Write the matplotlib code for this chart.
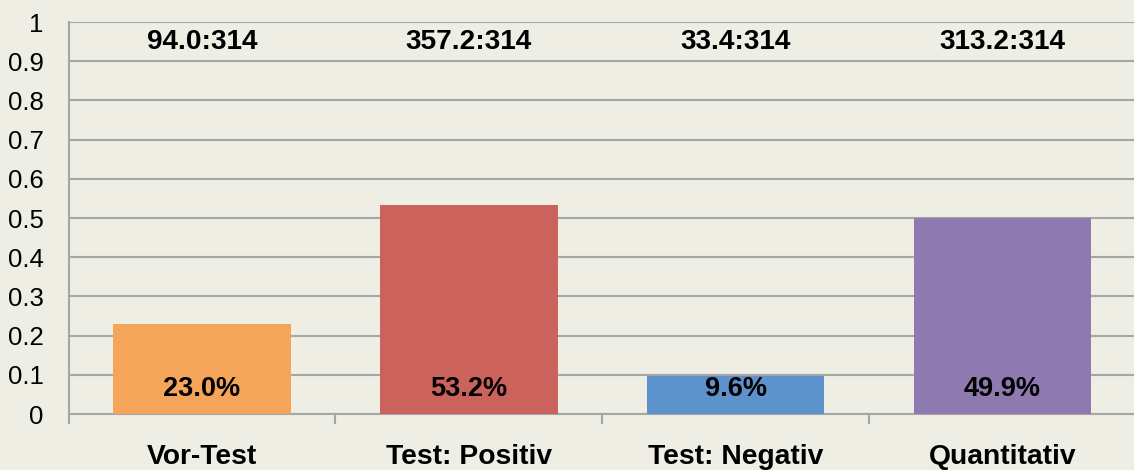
import numpy as np
import matplotlib.pyplot as plt

plt.rcParams['font.family'] = ['Liberation Sans', 'DejaVu Sans']

categories = ['Vor-Test', 'Test: Positiv', 'Test: Negativ', 'Quantitativ']
values = [0.230, 0.532, 0.096, 0.499]
pct_labels = ['23.0%', '53.2%', '9.6%', '49.9%']
ratio_labels = ['94.0:314', '357.2:314', '33.4:314', '313.2:314']
colors = ['#F4A55A', '#CB625C', '#5E92CC', '#8F79B1']

bg = '#EFEEE4'
grid_col = '#A6A6A6'

fig = plt.figure(figsize=(11.34, 4.70), dpi=100, facecolor=bg)
# axes extends slightly past right edge like the original
ax = fig.add_axes([68.5 / 1134, 1 - 414 / 470, (1136 - 68.5) / 1134, (414 - 22) / 470])
ax.set_facecolor(bg)

x = np.arange(len(categories))
ax.bar(x, values, width=0.665, color=colors, zorder=3)

ax.set_xlim(-0.5, len(categories) - 0.5)
ax.set_ylim(0, 1)
ax.set_yticks(np.arange(0, 1.01, 0.1))
ax.set_yticklabels(['0', '0.1', '0.2', '0.3', '0.4', '0.5', '0.6', '0.7', '0.8', '0.9', '1'])
ax.yaxis.grid(True, color=grid_col, linewidth=1.5, zorder=0)
ax.tick_params(axis='y', length=0, labelsize=18.5, pad=18)

# category boundary ticks below axis
ax.set_xticks(np.arange(-0.5, len(categories), 1.0))
ax.set_xticklabels([])
ax.tick_params(axis='x', length=7, width=1.5, color=grid_col, direction='out')

for s in ['top', 'right']:
    ax.spines[s].set_visible(False)
for s in ['left', 'bottom']:
    ax.spines[s].set_color(grid_col)
    ax.spines[s].set_linewidth(1.5)

for i in range(len(categories)):
    ax.text(x[i], 0.065, pct_labels[i], ha='center', va='center',
            fontsize=19.5, fontweight='bold', zorder=4)
    ax.text(x[i], 0.948, ratio_labels[i], ha='center', va='center',
            fontsize=20.2, fontweight='bold', zorder=4)
    ax.text(x[i], -0.11, categories[i], ha='center', va='center',
            fontsize=20.3, fontweight='bold', clip_on=False)

fig.savefig('out.png', dpi=100, facecolor=bg)
